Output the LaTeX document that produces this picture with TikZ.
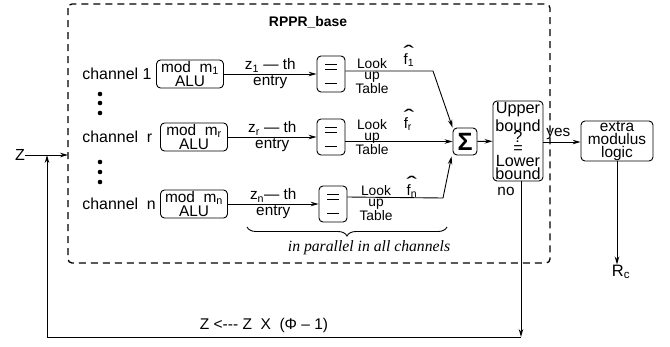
\documentclass[tikz,border=0pt]{standalone}
\usepackage{graphicx}
\usepackage{fontspec}
\setmainfont{Liberation Sans}
\newfontfamily\parfont{Liberation Serif}
\usetikzlibrary{arrows.meta,decorations.pathreplacing}
\newcommand\fhatof[1]{\scalebox{2.1}[1.4]{ˆ}\\[-11pt]f\textsubscript{#1}}

\begin{document}
\begin{tikzpicture}[x=1pt,y=-1pt,line width=0.9pt,>={Stealth[length=8pt,width=4.5pt]},blk/.style={draw,rounded corners=4pt,align=center,inner sep=0pt},modb/.style={blk,minimum width=67pt,minimum height=28pt,font=\fontsize{15.4}{12.5}\selectfont},lut/.style={blk,minimum width=28pt,minimum height=36pt},lutl/.style={align=center,inner sep=0pt,font=\fontsize{13.8}{11.5}\selectfont},chan/.style={anchor=west,inner sep=0pt,font=\fontsize{15.9}{16}\selectfont},lab/.style={inner sep=1.5pt,font=\fontsize{15.3}{12}\selectfont},fhat/.style={align=left,inner sep=0pt,font=\fontsize{15}{15}\selectfont}]
\def\ya{74};
\def\yr{137};
\def\yn{204};

\useasboundingbox (0,0) rectangle (670,346);

\draw[dashed,line width=1.3pt,dash pattern=on 7pt off 5pt,rounded corners=4pt] (68,4) rectangle (550,263);
\node[inner sep=0pt,font=\fontsize{13.9}{14}\selectfont\bfseries] (ttl) at (308,22) {RPPR\_base};

\node[chan] (c1) at (82,\ya) {channel 1};
\node[chan] (cr) at (82,\yr) {channel\ \ r};
\node[chan] (cn) at (82,\yn) {channel\ \ n};
\foreach \dy in {94,103,113,162,172,182}
  \fill (100,\dy) circle (2.3);

\node[modb] (m1) at (190,\ya) {mod\ \ m\textsubscript{1}\\ALU};
\node[modb] (mr) at (194,\yr) {mod\ \ m\textsubscript{r}\\ALU};
\node[modb] (mn) at (194,\yn) {mod\ \ m\textsubscript{n}\\ALU};

\node[lut] (t1) at (331,\ya) {};
\node[lut] (tr) at (331,\yr) {};
\node[lut] (tn) at (333,\yn) {};
\foreach \t in {t1,tr,tn}
  \foreach \dy in {-10,-5,9}
    \draw ([shift={(-6,\dy)}]\t.center) -- ++(12,0);

\draw[->] (m1) -- (t1) node[midway,above,lab] {z\textsubscript{1} — th} node[midway,below,lab] {entry};
\draw[->] (mr) -- (tr) node[midway,above,lab] {z\textsubscript{r} — th} node[midway,below,lab] {entry};
\draw[->] (mn) -- (tn) node[midway,above,lab] {z\textsubscript{n}— th} node[midway,below,lab] {entry};

\node[lutl] (l1) at (372,76) {Look\\up\\Table};
\node[lutl] (lr) at (372,137) {Look\\up\\Table};
\node[lutl] (ln) at (376,203) {Look\\up\\Table};

\node[fhat] (f1) at (409,56) {\fhatof{1}};
\node[fhat] (fr) at (409,120) {\fhatof{r}};
\node[fhat] (fn) at (412,187) {\fhatof{n}};

\node[blk,minimum width=24pt,minimum height=27pt,font=\fontsize{25}{25}\selectfont\bfseries] (sum) at (465,141.5) {Σ};

\coordinate (k1) at (433,71);
\coordinate (kn) at (443,198);
\draw[->] ([shift={(0,-3)}]t1.east) -- (k1) -- (sum.north west);
\draw[->] (tr.east |- sum.west) -- (sum.west);
\draw[->] ([shift={(0,-7)}]tn.east) -- (kn) -- ([shift={(-1,1)}]sum.south west);

\draw[decorate,decoration={brace,mirror,amplitude=9pt}] (247,227) -- (447,227);
\node[inner sep=0pt,font=\parfont\fontsize{15.7}{16}\selectfont\itshape] (par) at (369,248) {in parallel in all channels};

\node[blk,minimum width=50pt,minimum height=80pt,font=\fontsize{16.2}{14}\selectfont] (ub) at (518,141) {Upper\\[1pt]bound\\[-3pt]?\\[-3pt]=\\[-1pt]Lower\\[-1pt]bound};
\draw[->] (sum) -- (ub);

\node[blk,minimum width=72pt,minimum height=40pt,font=\fontsize{15.4}{13}\selectfont] (ex) at (617,141) {extra\\modulus\\logic};
\draw[->] ([shift={(0,1)}]ub.east) -- ([shift={(0,1)}]ub.east -| ex.west) node[pos=0.4,above,lab] {yes};

\node[inner sep=0pt,font=\fontsize{16.5}{16}\selectfont] (rc) at (621,272) {R\textsubscript{c}};
\draw[->] (ex.south) -- (ex.south |- rc.north);

\node[lab] (no) at (506,191) {no};

\node[inner sep=0pt,font=\fontsize{16}{16}\selectfont] (z) at (20,155) {Z};
\coordinate (zin) at (68,155);
\draw[->] (z.east) -- (zin);

\coordinate (fb1) at (521,337);
\coordinate (fb2) at (47,337);
\draw[->] (ub.south -| fb1) -- (fb1);
\draw (fb1) -- (fb2);
\draw[->] (fb2) -- (fb2 |- zin);
\node[inner sep=0pt,font=\fontsize{15.5}{16}\selectfont] (upd) at (264,325) {Z <-{}-{}- Z\ \ X\ \ (Φ – 1)};
\end{tikzpicture}
\end{document}
